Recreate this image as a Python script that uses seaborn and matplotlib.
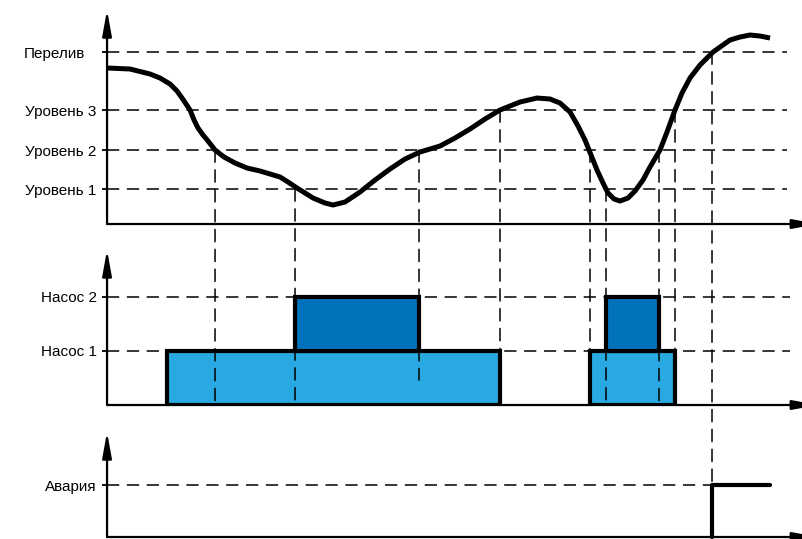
import seaborn as sns
import matplotlib.pyplot as plt
from matplotlib.patches import ConnectionPatch

# Временная диаграмма работы насосной станции
sns.set_style('white')
plt.rcParams['font.family'] = ['Liberation Sans', 'DejaVu Sans']
fsize = 11

# уровень в резервуаре (время, высота)
t_level = [1, 23, 43, 53, 63, 70, 75, 79, 83, 87, 91, 96, 101,
           108, 117, 128, 140, 153, 163, 173, 181, 190, 198, 206, 218, 226, 238,
           253, 268, 283, 298, 313, 333, 348, 363, 378, 393,
           413, 430, 443, 453, 463, 471, 478, 484, 490, 496,
           501, 507, 513, 521, 528, 536, 543, 553, 560, 568,
           575, 583, 593, 606, 623, 633, 643, 653, 663]
h_level = [156, 155, 150, 146, 140, 133, 126, 120, 114, 104, 96, 89, 83,
           74, 67, 61, 56, 53, 50, 47, 42, 36, 31, 26, 21, 19, 22,
           32, 44, 55, 65, 72, 78, 86, 95, 105, 114,
           122, 126, 125, 121, 112, 98, 84, 69, 54, 41,
           31, 25, 23, 26, 33, 44, 57, 74, 92, 114,
           131, 146, 159, 172, 184, 187, 189, 188, 186]

level_names = ['Уровень 1', 'Уровень 2', 'Уровень 3', 'Перелив']
level_values = [35, 74, 114, 172]

pump_names = ['Насос 1', 'Насос 2']
pump1_on = [60, 483]
pump1_off = [393, 568]
pump2_on = [188, 499]
pump2_off = [312, 552]

alarm_t = [605, 605, 663]
alarm_v = [0, 1, 1]

# моменты переключения: время, уровень на верхнем графике, куда доходит линия
switch_t = [108, 188, 312, 393, 483, 499, 552, 568, 605]
switch_from = [74, 35, 74, 114, 74, 35, 74, 114, 172]
switch_to = ['pump0', 'pump0', 'pump045', 'pump0', 'pump0', 'pump0', 'pump0', 'pump0', 'alarm']

c_pump1 = '#29a9e1'
c_pump2 = '#0072bb'

fig = plt.figure(figsize=(8.03, 5.39), dpi=100)
ax1 = fig.add_axes([0.1333, 0.5844, 0.8667, 0.3970])
ax2 = fig.add_axes([0.1333, 0.2486, 0.8667, 0.2876])
ax3 = fig.add_axes([0.1333, 0.0037, 0.8667, 0.1948])

dash = (0, (8, 5))

for ax in (ax1, ax2, ax3):
    ax.set_xlim(0, 696)
    for s in ax.spines.values():
        s.set_visible(False)
    ax.set_xticks([])
    ax.tick_params(axis='y', left=True, length=3.5, width=1.3, pad=4,
                   labelsize=fsize, color='black', labelcolor='black',
                   direction='out')
    ax.set_xlabel('')
    ax.set_ylabel('')
    arr = dict(arrowstyle='-|>,head_length=1.1,head_width=0.2', lw=1.6,
               color='black', mutation_scale=14, shrinkA=0, shrinkB=0)
    ax.annotate('', xy=(0, 1), xytext=(0, 0), xycoords='axes fraction',
                arrowprops=arr, annotation_clip=False)
    ax.annotate('', xy=(1.022, 0), xytext=(0, 0), xycoords='axes fraction',
                arrowprops=arr, annotation_clip=False)

# верхний график — уровень
ax1.set_ylim(0, 214)
ax1.hlines(level_values, 0, 680, colors='black', lw=1.1, linestyles=[dash])
sns.lineplot(x=t_level, y=h_level, ax=ax1, color='black', lw=3.6,
             estimator=None, sort=False)
ax1.lines[-1].set_solid_capstyle('butt')
ax1.lines[-1].set_solid_joinstyle('round')
ax1.set_yticks(level_values)
ax1.set_yticklabels(level_names)
ax1.get_yticklabels()[3].set_x(-0.016)

# средний график — насосы
ax2.set_ylim(0, 2.87)
ax2.hlines([1, 2], 0, 683, colors='black', lw=1.1, linestyles=[dash], zorder=1)
ax2.bar(x=pump1_on, height=1, width=[b - a for a, b in zip(pump1_on, pump1_off)],
        bottom=0, align='edge', color=c_pump1, edgecolor='black', lw=3, zorder=2)
ax2.bar(x=pump2_on, height=1, width=[b - a for a, b in zip(pump2_on, pump2_off)],
        bottom=1, align='edge', color=c_pump2, edgecolor='black', lw=3, zorder=2)
ax2.set_yticks([1, 2])
ax2.set_yticklabels(pump_names)

# нижний график — авария
ax3.set_ylim(0, 2.02)
ax3.hlines([1], 0, 605, colors='black', lw=1.1, linestyles=[dash])
sns.lineplot(x=alarm_t, y=alarm_v, ax=ax3, color='black', lw=3,
             estimator=None, sort=False)
ax3.lines[-1].set_clip_on(False)
ax3.set_yticks([1])
ax3.set_yticklabels(['Авария'])

# вертикальные пунктиры через все графики
for t, h0, dst in zip(switch_t, switch_from, switch_to):
    if dst == 'alarm':
        xyB, axB = (t, 1), ax3
    elif dst == 'pump045':
        xyB, axB = (t, 0.46), ax2
    else:
        xyB, axB = (t, 0), ax2
    con = ConnectionPatch(xyA=(t, h0), coordsA=ax1.transData,
                          xyB=xyB, coordsB=axB.transData,
                          color='black', lw=1.1, linestyle=dash, zorder=5)
    fig.add_artist(con)

plt.savefig('out.png', dpi=100)
